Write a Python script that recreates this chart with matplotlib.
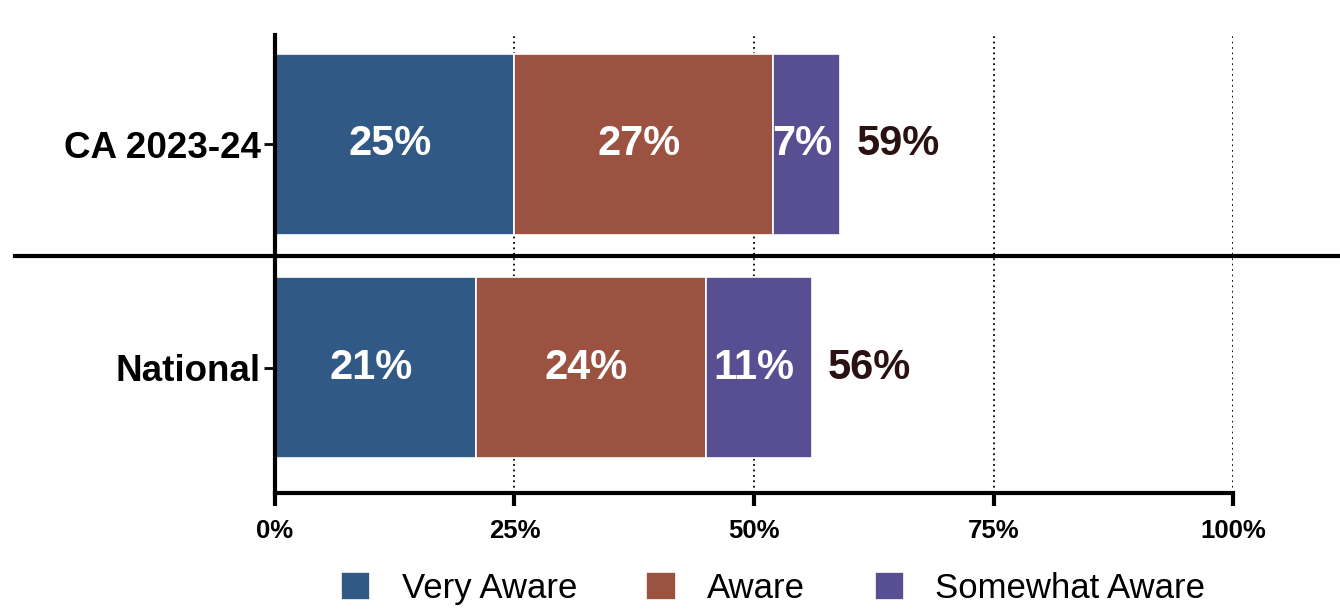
import matplotlib
matplotlib.use("Agg")
import matplotlib.pyplot as plt
import numpy as np

# data
categories = ['National', 'CA 2023-24']
very_aware = [21, 25]
aware = [24, 27]
somewhat_aware = [11, 7]
series_names = ['Very Aware', 'Aware', 'Somewhat Aware']
colors = ['#305a85', '#9b5240', '#584f93']
x_ticks = [0, 25, 50, 75, 100]
x_tick_labels = ['0%', '25%', '50%', '75%', '100%']

plt.rcParams['font.family'] = ['Liberation Sans', 'DejaVu Sans']


def main():
    fig = plt.figure(figsize=(13.4, 6.11), dpi=100)
    ax = fig.add_axes([0.2052, 0.193, 0.715, 0.75])

    y = np.arange(len(categories))
    series = [very_aware, aware, somewhat_aware]
    left = np.zeros(len(categories))
    for vals, name, col in zip(series, series_names, colors):
        vals = np.array(vals)
        ax.barh(y, vals, left=left, height=0.81, color=col, edgecolor='white',
                linewidth=1.2, label=name, zorder=2)
        for yi, l, v in zip(y, left, vals):
            ax.text(l + v / 2 - 0.5, yi, f'{v}%', ha='center', va='center',
                    color='white', fontsize=30, fontweight='bold', zorder=3)
        left = left + vals

    # totals to the right of each bar
    for yi, tot in zip(y, left):
        ax.text(tot + 1.7, yi, f'{int(tot)}%', ha='left', va='center',
                color='#2a1212', fontsize=30, fontweight='bold')

    # dotted grid lines behind bars
    for xv in x_ticks[1:]:
        ax.axvline(xv, color='black', linestyle=(0, (1, 2)), linewidth=1.3, zorder=1)

    # separator line between the two groups
    ax.axhline(0.5, xmin=-0.271, xmax=1.12, color='black', linewidth=3, clip_on=False, zorder=4)

    ax.set_xlim(0, 100)
    ax.set_ylim(-0.56, 1.49)
    ax.set_xticks(x_ticks)
    ax.set_xticklabels(x_tick_labels, fontsize=18.5, fontweight='bold')
    ax.set_yticks(y)
    ax.set_yticklabels(categories, fontsize=26.5, fontweight='bold')

    for side in ['top', 'right']:
        ax.spines[side].set_visible(False)
    for side in ['left', 'bottom']:
        ax.spines[side].set_linewidth(3)
    ax.tick_params(axis='x', length=9, width=3, pad=10)
    ax.tick_params(axis='y', length=8, width=2, pad=2)

    fig.legend(loc='center', bbox_to_anchor=(0.577, 0.037), ncol=3, frameon=False,
               fontsize=25, handlelength=0.85, handleheight=0.85, columnspacing=2.0,
               handletextpad=0.9)

    fig.savefig('out.png', dpi=100)


if __name__ == "__main__":
    main()
